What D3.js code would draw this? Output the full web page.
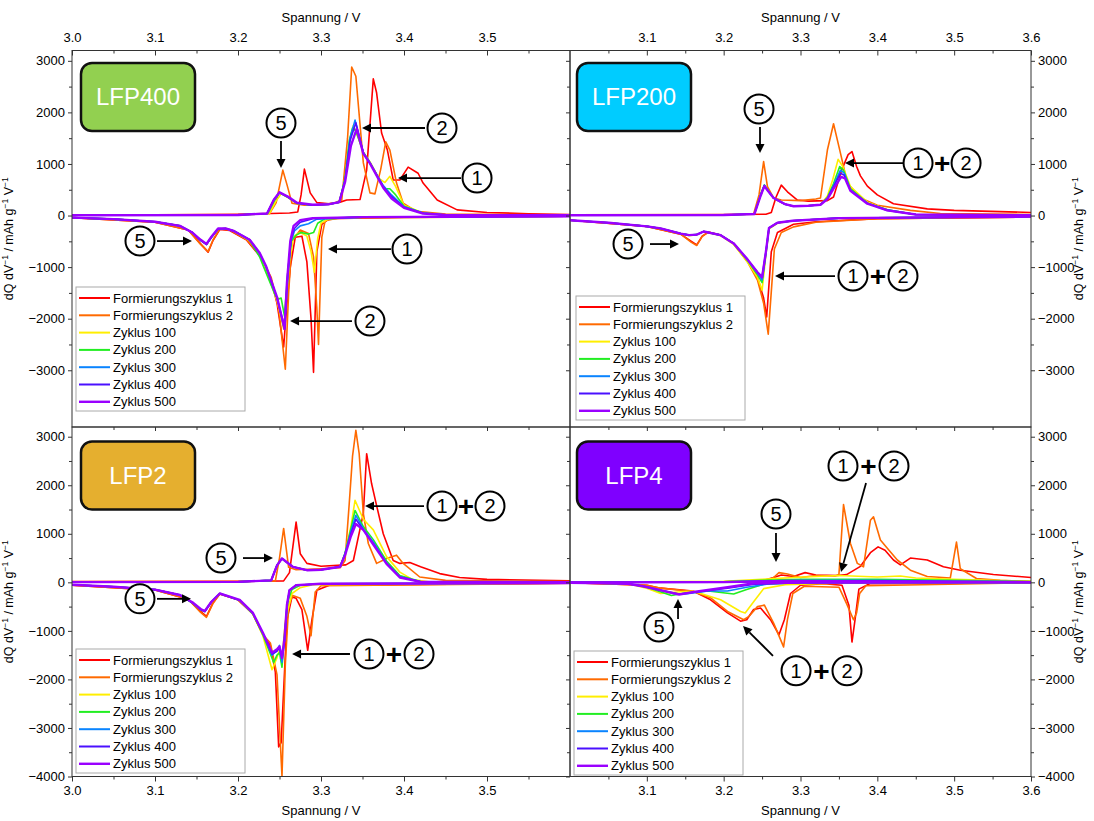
<!DOCTYPE html>
<html><head><meta charset="utf-8">
<script src="https://cdn.jsdelivr.net/npm/d3@7"></script>
<style>body{margin:0;background:#fff}svg{display:block;font-family:"Liberation Sans",Arial,sans-serif}</style>
</head><body>
<script>
// ---------------- DATA ----------------
const seriesNames = ["Formierungszyklus 1","Formierungszyklus 2","Zyklus 100","Zyklus 200","Zyklus 300","Zyklus 400","Zyklus 500"];
const seriesColors = ["#ff0000","#ff6a00","#ffee00","#22ee22","#0a84ff","#4a10ff","#9a00ff"];
const xTicks = [3.0,3.1,3.2,3.3,3.4,3.5,3.6];
const yTicksTop = [3000,2000,1000,0,-1000,-2000,-3000];
const yTicksBottom = [3000,2000,1000,0,-1000,-2000,-3000,-4000];
const panelNames = ["LFP400","LFP200","LFP2","LFP4"];
const panelColors = ["#92d050","#00ccff","#e5af2f","#7f00ff"];

// LFP400 charge
const A_ch_fz1 = [[3.0,10],[3.1,15],[3.2,25],[3.24,40],[3.262,50],[3.272,70],[3.276,400],[3.28,900],[3.287,440],[3.295,250],[3.31,230],[3.323,260],[3.331,300],[3.347,310],[3.355,880],[3.363,2650],[3.367,2380],[3.373,1600],[3.38,1270],[3.387,690],[3.395,690],[3.405,940],[3.417,820],[3.423,630],[3.44,300],[3.464,110],[3.5,60],[3.55,35],[3.6,20]];
const A_ch_fz2 = [[3.0,10],[3.2,20],[3.238,40],[3.246,250],[3.254,880],[3.259,600],[3.265,240],[3.28,200],[3.3,210],[3.315,240],[3.325,300],[3.332,1500],[3.337,2880],[3.342,2700],[3.351,1020],[3.359,440],[3.365,420],[3.372,900],[3.378,1430],[3.383,1270],[3.391,630],[3.399,240],[3.415,80],[3.45,30],[3.6,10]];
const A_ch_z100 = [[3.0,5],[3.2,10],[3.238,40],[3.245,260],[3.252,420],[3.26,350],[3.271,240],[3.29,200],[3.31,220],[3.322,260],[3.329,720],[3.334,1400],[3.339,1750],[3.345,1500],[3.351,1230],[3.359,1040],[3.37,720],[3.377,640],[3.383,760],[3.39,560],[3.4,200],[3.423,50],[3.45,10],[3.6,5]];
const A_ch_z200 = [[3.0,5],[3.2,10],[3.236,40],[3.244,290],[3.25,440],[3.26,360],[3.271,240],[3.29,200],[3.31,220],[3.322,260],[3.329,720],[3.334,1450],[3.338,1700],[3.342,1640],[3.351,1230],[3.359,1030],[3.37,700],[3.377,520],[3.383,520],[3.39,400],[3.4,180],[3.423,50],[3.45,10],[3.6,5]];
const A_ch_z300 = [[3.0,5],[3.2,10],[3.235,40],[3.243,300],[3.25,440],[3.26,360],[3.271,240],[3.29,200],[3.31,220],[3.322,260],[3.329,700],[3.335,1500],[3.341,1850],[3.345,1600],[3.351,1220],[3.359,1020],[3.375,580],[3.385,400],[3.4,170],[3.423,50],[3.45,10],[3.6,5]];
const A_ch_z400 = [[3.0,5],[3.2,10],[3.235,40],[3.243,300],[3.25,450],[3.26,360],[3.271,240],[3.29,200],[3.31,220],[3.322,260],[3.329,680],[3.335,1450],[3.342,1800],[3.346,1550],[3.351,1210],[3.359,1010],[3.375,560],[3.385,370],[3.4,160],[3.423,45],[3.45,10],[3.6,5]];
const A_ch_z500 = [[3.0,5],[3.2,10],[3.235,40],[3.243,300],[3.25,450],[3.26,370],[3.271,250],[3.29,210],[3.31,220],[3.322,260],[3.329,650],[3.336,1350],[3.343,1680],[3.351,1200],[3.359,1010],[3.375,540],[3.385,330],[3.4,150],[3.423,40],[3.45,10],[3.6,5]];
// LFP400 discharge
const A_dc_fz1 = [[3.0,-40],[3.1,-130],[3.14,-280],[3.155,-550],[3.164,-710],[3.17,-480],[3.178,-270],[3.19,-290],[3.21,-470],[3.226,-780],[3.24,-1250],[3.247,-1700],[3.255,-2550],[3.259,-1700],[3.263,-1000],[3.269,-420],[3.277,-400],[3.283,-900],[3.288,-2000],[3.291,-3040],[3.295,-700],[3.301,-170],[3.31,-60],[3.4,-30],[3.6,-15]];
const A_dc_fz2 = [[3.0,-40],[3.1,-130],[3.14,-280],[3.155,-560],[3.164,-700],[3.17,-470],[3.178,-260],[3.19,-280],[3.21,-460],[3.226,-760],[3.24,-1200],[3.249,-1800],[3.257,-2980],[3.261,-1500],[3.265,-500],[3.275,-280],[3.285,-350],[3.291,-800],[3.295,-1800],[3.297,-2500],[3.301,-420],[3.305,-100],[3.32,-50],[3.6,-15]];
const A_dc_z100 = [[3.0,-40],[3.05,-70],[3.1,-120],[3.13,-200],[3.145,-330],[3.155,-480],[3.162,-560],[3.168,-420],[3.176,-260],[3.185,-250],[3.195,-300],[3.214,-490],[3.226,-760],[3.234,-1050],[3.247,-1650],[3.255,-2200],[3.259,-1500],[3.262,-900],[3.267,-400],[3.275,-330],[3.283,-400],[3.288,-700],[3.292,-1100],[3.296,-450],[3.3,-150],[3.31,-60],[3.35,-30],[3.6,-15]];
const A_dc_z200 = [[3.0,-40],[3.05,-70],[3.1,-120],[3.13,-200],[3.145,-330],[3.155,-480],[3.162,-560],[3.168,-420],[3.176,-260],[3.185,-250],[3.195,-300],[3.214,-480],[3.226,-800],[3.231,-1000],[3.245,-1550],[3.249,-1620],[3.252,-1600],[3.256,-1950],[3.26,-1100],[3.264,-500],[3.27,-380],[3.276,-330],[3.285,-360],[3.291,-330],[3.296,-150],[3.305,-60],[3.35,-30],[3.6,-15]];
const A_dc_z300 = [[3.0,-40],[3.05,-70],[3.1,-120],[3.13,-200],[3.145,-330],[3.155,-480],[3.162,-560],[3.168,-420],[3.176,-260],[3.185,-250],[3.195,-300],[3.214,-470],[3.226,-740],[3.234,-1000],[3.247,-1600],[3.256,-2150],[3.26,-1200],[3.264,-500],[3.268,-300],[3.275,-200],[3.285,-160],[3.295,-70],[3.35,-30],[3.6,-15]];
const A_dc_z400 = [[3.0,-40],[3.05,-70],[3.1,-120],[3.13,-200],[3.145,-330],[3.155,-480],[3.162,-560],[3.168,-420],[3.176,-260],[3.185,-250],[3.195,-300],[3.214,-470],[3.226,-730],[3.234,-1000],[3.247,-1600],[3.256,-2200],[3.26,-1100],[3.264,-450],[3.268,-250],[3.275,-130],[3.29,-60],[3.35,-30],[3.6,-15]];
const A_dc_z500 = [[3.0,-40],[3.05,-70],[3.1,-120],[3.13,-200],[3.145,-330],[3.155,-470],[3.162,-550],[3.168,-410],[3.176,-250],[3.185,-250],[3.195,-300],[3.214,-470],[3.226,-720],[3.234,-990],[3.247,-1580],[3.256,-2200],[3.259,-1300],[3.263,-500],[3.267,-200],[3.275,-90],[3.29,-50],[3.35,-30],[3.6,-15]];

// LFP200 charge
const B_ch_fz1 = [[3.0,15],[3.2,20],[3.255,25],[3.262,60],[3.268,350],[3.275,590],[3.283,460],[3.296,300],[3.31,280],[3.335,290],[3.343,360],[3.354,900],[3.362,1180],[3.367,1240],[3.373,950],[3.378,770],[3.387,570],[3.4,400],[3.421,230],[3.465,130],[3.5,100],[3.6,60]];
const B_ch_fz2 = [[3.0,10],[3.2,15],[3.239,30],[3.246,400],[3.252,1045],[3.257,560],[3.265,340],[3.275,300],[3.3,290],[3.32,320],[3.326,340],[3.335,1270],[3.343,1780],[3.352,1210],[3.361,630],[3.378,340],[3.4,200],[3.443,100],[3.482,40],[3.6,20]];
const B_ch_z100 = [[3.0,5],[3.2,10],[3.24,30],[3.248,400],[3.253,590],[3.258,480],[3.265,340],[3.28,220],[3.291,180],[3.31,190],[3.326,210],[3.335,380],[3.342,700],[3.349,1090],[3.355,950],[3.365,560],[3.387,260],[3.413,110],[3.45,20],[3.6,5]];
const B_ch_z200 = [[3.0,5],[3.2,10],[3.24,30],[3.248,400],[3.253,590],[3.258,480],[3.265,340],[3.28,220],[3.291,180],[3.31,190],[3.326,210],[3.335,350],[3.343,620],[3.351,950],[3.356,880],[3.365,520],[3.387,240],[3.413,110],[3.45,20],[3.6,5]];
const B_ch_z300 = [[3.0,5],[3.2,10],[3.24,30],[3.248,400],[3.253,590],[3.258,480],[3.265,340],[3.28,220],[3.291,180],[3.31,190],[3.326,210],[3.335,340],[3.343,580],[3.352,880],[3.357,820],[3.365,500],[3.387,240],[3.413,110],[3.45,20],[3.6,5]];
const B_ch_z400 = [[3.0,5],[3.2,10],[3.24,30],[3.248,390],[3.253,580],[3.258,470],[3.265,340],[3.28,220],[3.291,180],[3.31,190],[3.326,210],[3.335,330],[3.343,560],[3.352,820],[3.357,780],[3.365,490],[3.387,240],[3.413,100],[3.45,20],[3.6,5]];
const B_ch_z500 = [[3.0,5],[3.2,10],[3.24,30],[3.248,380],[3.253,570],[3.258,470],[3.265,340],[3.28,220],[3.291,180],[3.31,190],[3.326,210],[3.335,320],[3.343,520],[3.353,750],[3.358,720],[3.365,480],[3.387,230],[3.413,100],[3.45,20],[3.6,5]];
// LFP200 discharge
const B_dc_fz1 = [[3.0,-90],[3.1,-210],[3.144,-360],[3.158,-500],[3.165,-570],[3.172,-400],[3.18,-320],[3.196,-380],[3.213,-540],[3.231,-880],[3.244,-1200],[3.252,-1600],[3.256,-1965],[3.262,-700],[3.27,-330],[3.291,-170],[3.32,-120],[3.4,-60],[3.6,-30]];
const B_dc_fz2 = [[3.0,-90],[3.1,-210],[3.144,-360],[3.158,-520],[3.165,-580],[3.172,-410],[3.18,-320],[3.196,-380],[3.213,-550],[3.231,-900],[3.244,-1250],[3.252,-1700],[3.258,-2300],[3.266,-650],[3.275,-330],[3.291,-220],[3.32,-130],[3.4,-60],[3.6,-30]];
const B_dc_z100 = [[3.0,-90],[3.05,-140],[3.1,-210],[3.118,-250],[3.144,-350],[3.155,-390],[3.165,-370],[3.174,-310],[3.196,-390],[3.213,-560],[3.231,-900],[3.244,-1200],[3.25,-1450],[3.255,-760],[3.259,-260],[3.27,-150],[3.29,-100],[3.35,-50],[3.6,-20]];
const B_dc_z200 = [[3.0,-90],[3.05,-140],[3.1,-210],[3.118,-250],[3.144,-350],[3.155,-380],[3.165,-370],[3.174,-310],[3.196,-380],[3.213,-540],[3.231,-870],[3.244,-1150],[3.25,-1300],[3.255,-740],[3.259,-250],[3.27,-140],[3.29,-100],[3.35,-50],[3.6,-20]];
const B_dc_z300 = [[3.0,-90],[3.05,-140],[3.1,-210],[3.118,-250],[3.144,-350],[3.155,-380],[3.165,-370],[3.174,-310],[3.196,-380],[3.213,-540],[3.231,-860],[3.244,-1120],[3.25,-1250],[3.255,-720],[3.259,-240],[3.27,-140],[3.29,-100],[3.35,-50],[3.6,-20]];
const B_dc_z400 = [[3.0,-90],[3.05,-140],[3.1,-210],[3.118,-250],[3.144,-350],[3.155,-380],[3.165,-370],[3.174,-310],[3.196,-380],[3.213,-540],[3.231,-850],[3.244,-1100],[3.25,-1180],[3.255,-700],[3.259,-240],[3.27,-140],[3.29,-100],[3.35,-50],[3.6,-20]];
const B_dc_z500 = [[3.0,-90],[3.05,-140],[3.1,-210],[3.118,-250],[3.144,-350],[3.155,-380],[3.165,-370],[3.174,-310],[3.196,-380],[3.213,-540],[3.231,-850],[3.244,-1100],[3.25,-1200],[3.255,-700],[3.259,-240],[3.27,-140],[3.29,-100],[3.35,-50],[3.6,-20]];

// LFP2 charge
const C_ch_fz1 = [[3.0,15],[3.2,20],[3.255,30],[3.262,200],[3.27,1240],[3.275,590],[3.283,390],[3.3,330],[3.33,360],[3.339,450],[3.351,1420],[3.355,2650],[3.361,2030],[3.367,1580],[3.375,1000],[3.387,450],[3.395,390],[3.407,410],[3.42,320],[3.443,180],[3.467,100],[3.5,60],[3.6,30]];
const C_ch_fz2 = [[3.0,10],[3.2,15],[3.245,30],[3.25,500],[3.255,1110],[3.261,310],[3.27,260],[3.3,280],[3.323,300],[3.329,450],[3.334,1620],[3.338,2600],[3.342,3130],[3.346,2650],[3.351,1420],[3.357,800],[3.367,390],[3.379,490],[3.391,560],[3.399,390],[3.419,110],[3.45,40],[3.6,15]];
const C_ch_z100 = [[3.0,5],[3.2,10],[3.24,40],[3.247,350],[3.253,490],[3.266,320],[3.283,250],[3.3,260],[3.323,320],[3.329,600],[3.336,1150],[3.341,1690],[3.351,1300],[3.363,1080],[3.379,530],[3.395,210],[3.41,60],[3.43,10],[3.6,5]];
const C_ch_z200 = [[3.0,5],[3.2,10],[3.24,40],[3.247,350],[3.253,490],[3.266,320],[3.283,250],[3.3,260],[3.323,320],[3.329,600],[3.336,1100],[3.341,1480],[3.351,1150],[3.363,880],[3.379,440],[3.395,140],[3.42,15],[3.6,5]];
const C_ch_z300 = [[3.0,5],[3.2,10],[3.24,40],[3.247,350],[3.253,490],[3.266,320],[3.283,250],[3.3,260],[3.323,320],[3.329,600],[3.336,1050],[3.342,1380],[3.351,1100],[3.363,830],[3.379,400],[3.395,120],[3.42,10],[3.6,5]];
const C_ch_z400 = [[3.0,5],[3.2,10],[3.24,40],[3.247,350],[3.253,490],[3.266,320],[3.283,250],[3.3,260],[3.323,320],[3.329,580],[3.336,1000],[3.342,1300],[3.351,1080],[3.363,800],[3.379,390],[3.395,110],[3.42,10],[3.6,5]];
const C_ch_z500 = [[3.0,5],[3.2,10],[3.24,40],[3.247,350],[3.253,490],[3.266,320],[3.283,250],[3.3,260],[3.323,320],[3.329,560],[3.336,950],[3.342,1200],[3.346,1150],[3.351,1080],[3.363,780],[3.379,380],[3.395,100],[3.42,10],[3.6,5]];
// LFP2 discharge
const C_dc_fz1 = [[3.0,-60],[3.1,-160],[3.14,-350],[3.155,-600],[3.162,-700],[3.17,-420],[3.178,-240],[3.2,-360],[3.218,-650],[3.23,-1080],[3.239,-1300],[3.245,-1850],[3.249,-3390],[3.252,-3300],[3.259,-780],[3.265,-300],[3.27,-330],[3.277,-560],[3.284,-1400],[3.289,-780],[3.295,-165],[3.31,-60],[3.6,-20]];
const C_dc_fz2 = [[3.0,-60],[3.1,-160],[3.14,-350],[3.155,-620],[3.162,-720],[3.17,-430],[3.178,-240],[3.2,-360],[3.218,-650],[3.23,-1080],[3.239,-1250],[3.247,-1900],[3.253,-4000],[3.257,-1700],[3.261,-480],[3.266,-270],[3.275,-330],[3.283,-700],[3.288,-1100],[3.293,-200],[3.3,-70],[3.6,-20]];
const C_dc_z100 = [[3.0,-50],[3.05,-90],[3.1,-150],[3.13,-260],[3.145,-420],[3.155,-560],[3.16,-600],[3.168,-400],[3.178,-230],[3.202,-370],[3.218,-660],[3.23,-1100],[3.241,-1800],[3.247,-1550],[3.25,-1400],[3.253,-1600],[3.257,-800],[3.265,-230],[3.275,-110],[3.29,-50],[3.6,-15]];
const C_dc_z200 = [[3.0,-50],[3.05,-90],[3.1,-150],[3.13,-260],[3.145,-420],[3.155,-560],[3.16,-600],[3.168,-400],[3.178,-230],[3.202,-370],[3.218,-650],[3.23,-1080],[3.243,-1650],[3.247,-1500],[3.25,-1450],[3.253,-1750],[3.256,-1100],[3.26,-400],[3.265,-150],[3.275,-60],[3.3,-30],[3.6,-15]];
const C_dc_z300 = [[3.0,-50],[3.05,-90],[3.1,-150],[3.13,-260],[3.145,-420],[3.155,-560],[3.16,-600],[3.168,-400],[3.178,-230],[3.202,-370],[3.218,-640],[3.23,-1050],[3.241,-1500],[3.247,-1400],[3.25,-1300],[3.253,-1650],[3.256,-1200],[3.259,-480],[3.262,-165],[3.27,-60],[3.3,-30],[3.6,-15]];
const C_dc_z400 = [[3.0,-50],[3.05,-90],[3.1,-150],[3.13,-260],[3.145,-420],[3.155,-560],[3.16,-600],[3.168,-400],[3.178,-230],[3.202,-370],[3.218,-640],[3.23,-1050],[3.241,-1480],[3.247,-1420],[3.25,-1350],[3.253,-1560],[3.256,-1200],[3.259,-480],[3.262,-165],[3.27,-60],[3.3,-30],[3.6,-15]];
const C_dc_z500 = [[3.0,-50],[3.05,-90],[3.1,-150],[3.13,-260],[3.145,-410],[3.155,-550],[3.16,-590],[3.168,-400],[3.178,-230],[3.202,-360],[3.218,-630],[3.23,-1040],[3.241,-1450],[3.247,-1380],[3.25,-1320],[3.253,-1560],[3.256,-1150],[3.259,-460],[3.262,-160],[3.27,-60],[3.3,-30],[3.6,-15]];

// LFP4 charge
const D_ch_fz1 = [[3.0,0],[3.2,10],[3.25,30],[3.265,100],[3.275,150],[3.291,120],[3.306,200],[3.32,150],[3.348,140],[3.36,160],[3.378,330],[3.391,610],[3.401,730],[3.41,660],[3.421,460],[3.43,360],[3.443,500],[3.465,460],[3.486,320],[3.508,250],[3.551,160],[3.6,100]];
const D_ch_fz2 = [[3.0,0],[3.2,10],[3.257,20],[3.265,100],[3.272,200],[3.283,170],[3.3,100],[3.32,140],[3.345,130],[3.35,160],[3.356,1600],[3.365,800],[3.374,390],[3.382,320],[3.391,1280],[3.395,1350],[3.404,870],[3.413,700],[3.426,460],[3.443,250],[3.465,120],[3.495,90],[3.503,830],[3.508,280],[3.529,80],[3.56,40],[3.6,20]];
const D_ch_z100 = [[3.0,0],[3.2,20],[3.25,60],[3.29,100],[3.35,140],[3.4,110],[3.43,130],[3.45,90],[3.5,60],[3.6,20]];
const D_ch_z200 = [[3.0,0],[3.2,10],[3.25,40],[3.3,60],[3.4,60],[3.5,40],[3.6,15]];
const D_ch_z300 = [[3.0,0],[3.2,10],[3.3,40],[3.4,40],[3.5,20],[3.6,10]];
const D_ch_z400 = [[3.0,0],[3.2,5],[3.3,30],[3.4,30],[3.5,15],[3.6,5]];
const D_ch_z500 = [[3.0,0],[3.2,5],[3.28,30],[3.4,20],[3.6,5]];
// LFP4 discharge
const D_dc_fz1 = [[3.0,-10],[3.1,-60],[3.118,-120],[3.16,-180],[3.183,-360],[3.205,-630],[3.222,-800],[3.23,-770],[3.239,-560],[3.248,-530],[3.261,-770],[3.272,-1080],[3.279,-770],[3.287,-230],[3.3,-60],[3.33,-30],[3.354,-60],[3.363,-470],[3.367,-1230],[3.371,-770],[3.376,-140],[3.39,-30],[3.6,-10]];
const D_dc_fz2 = [[3.0,-10],[3.1,-60],[3.118,-120],[3.16,-190],[3.183,-320],[3.205,-600],[3.226,-770],[3.233,-700],[3.244,-500],[3.253,-470],[3.265,-840],[3.278,-1330],[3.283,-770],[3.29,-230],[3.305,-80],[3.35,-100],[3.36,-440],[3.369,-770],[3.373,-630],[3.377,-230],[3.385,-70],[3.6,-10]];
const D_dc_z100 = [[3.0,-10],[3.075,-30],[3.1,-120],[3.118,-230],[3.14,-200],[3.16,-180],[3.196,-360],[3.222,-600],[3.228,-630],[3.239,-400],[3.252,-130],[3.28,-50],[3.35,-20],[3.6,0]];
const D_dc_z200 = [[3.0,-10],[3.075,-30],[3.1,-100],[3.132,-270],[3.15,-220],[3.18,-180],[3.213,-240],[3.23,-150],[3.252,-40],[3.3,-10],[3.6,0]];
const D_dc_z300 = [[3.0,-10],[3.075,-30],[3.1,-90],[3.135,-230],[3.15,-240],[3.18,-180],[3.205,-180],[3.23,-100],[3.26,-30],[3.3,-10],[3.6,0]];
const D_dc_z400 = [[3.0,-10],[3.075,-30],[3.095,-80],[3.12,-170],[3.142,-240],[3.165,-200],[3.205,-120],[3.24,-40],[3.3,-10],[3.6,0]];
const D_dc_z500 = [[3.0,-10],[3.05,-20],[3.075,-30],[3.095,-80],[3.12,-170],[3.142,-250],[3.161,-200],[3.205,-100],[3.24,-20],[3.3,-5],[3.6,0]];

// annotations (data units): circled labels and arrows
const A_circles = [[3.2518,1794,"5"],[3.4458,1697,"2"],[3.488,727,"1"],[3.0819,-495,"5"],[3.4036,-650,"1"],[3.359,-2046,"2"]];
const A_arrows = [[3.2518,1445,3.2518,921],[3.4253,1697,3.3494,1697],[3.4687,727,3.3928,727],[3.1024,-495,3.1446,-495],[3.3843,-650,3.3084,-650],[3.3373,-2046,3.2627,-2046]];
const B_circles = [[3.246,2066,"5"],[3.453,1018,"1"],[3.5155,1018,"2"],[3.0755,-553,"5"],[3.3683,-1173,"1"],[3.4334,-1173,"2"]];
const B_pluses = [[3.4843,1018],[3.4008,-1173]];
const B_arrows = [[3.2473,1716,3.2473,1212],[3.4334,1018,3.3579,1018],[3.1041,-553,3.1419,-553],[3.3449,-1173,3.2668,-1173]];
const C_circles = [[3.4458,1572,"1"],[3.5036,1572,"2"],[3.1795,500,"5"],[3.0819,-340,"5"],[3.3578,-1476,"1"],[3.4181,-1476,"2"]];
const C_pluses = [[3.4747,1572],[3.3879,-1476]];
const C_arrows = [[3.4241,1572,3.353,1572],[3.206,500,3.2422,500],[3.1024,-340,3.1434,-340],[3.3349,-1476,3.2651,-1476]];
const D_circles = [[3.3553,2396,"1"],[3.4217,2396,"2"],[3.2681,1407,"5"],[3.1158,-921,"5"],[3.2942,-1820,"1"],[3.3605,-1820,"2"]];
const D_pluses = [[3.3885,2396],[3.3273,-1820]];
const D_arrows = [[3.3853,2046,3.3527,212],[3.2681,1016,3.2681,418],[3.1406,-756,3.1406,-344],[3.2642,-1514,3.2252,-900]];

// ---------------- DRAWING ----------------
const svg = d3.select("body").append("svg").attr("width",1094).attr("height",821);
const defs = svg.append("defs");

const layout = [
  {key:"A", left:72, right:570, top:50.5, bottom:427, ydom:[-4100,3200], yt:yTicksTop, xside:"top", yside:"left",
   ch:[A_ch_fz1,A_ch_fz2,A_ch_z100,A_ch_z200,A_ch_z300,A_ch_z400,A_ch_z500], dc:[A_dc_fz1,A_dc_fz2,A_dc_z100,A_dc_z200,A_dc_z300,A_dc_z400,A_dc_z500],
   circles:A_circles, pluses:[], arrows:A_arrows, legend:{x:76,y:287}},
  {key:"B", left:570, right:1031, top:50.5, bottom:427, ydom:[-4100,3200], yt:yTicksTop, xside:"top", yside:"right",
   ch:[B_ch_fz1,B_ch_fz2,B_ch_z100,B_ch_z200,B_ch_z300,B_ch_z400,B_ch_z500], dc:[B_dc_fz1,B_dc_fz2,B_dc_z100,B_dc_z200,B_dc_z300,B_dc_z400,B_dc_z500],
   circles:B_circles, pluses:B_pluses, arrows:B_arrows, legend:{x:576,y:296}},
  {key:"C", left:72, right:570, top:427, bottom:776.5, ydom:[-4000,3200], yt:yTicksBottom, xside:"bottom", yside:"left",
   ch:[C_ch_fz1,C_ch_fz2,C_ch_z100,C_ch_z200,C_ch_z300,C_ch_z400,C_ch_z500], dc:[C_dc_fz1,C_dc_fz2,C_dc_z100,C_dc_z200,C_dc_z300,C_dc_z400,C_dc_z500],
   circles:C_circles, pluses:C_pluses, arrows:C_arrows, legend:{x:76,y:649}},
  {key:"D", left:570, right:1031, top:427, bottom:776.5, ydom:[-4000,3200], yt:yTicksBottom, xside:"bottom", yside:"right",
   ch:[D_ch_fz1,D_ch_fz2,D_ch_z100,D_ch_z200,D_ch_z300,D_ch_z400,D_ch_z500], dc:[D_dc_fz1,D_dc_fz2,D_dc_z100,D_dc_z200,D_dc_z300,D_dc_z400,D_dc_z500],
   circles:D_circles, pluses:D_pluses, arrows:D_arrows, legend:{x:574,y:651}}
];

const minorX = [3.05,3.15,3.25,3.35,3.45,3.55];

function styleAxis(g){
  g.select(".domain").remove();
  g.selectAll(".tick line").attr("stroke","#333").attr("stroke-width",1);
  g.selectAll(".tick text").attr("fill","#000").attr("font-size",13).attr("font-family","Liberation Sans, Arial, sans-serif");
}

layout.forEach((p,pi)=>{
  const x = d3.scaleLinear().domain([3.0,3.6]).range([p.left,p.right]);
  const y = d3.scaleLinear().domain(p.ydom).range([p.bottom,p.top]);
  const g = svg.append("g");
  defs.append("clipPath").attr("id","clip"+p.key).append("rect")
    .attr("x",p.left).attr("y",p.top).attr("width",p.right-p.left).attr("height",p.bottom-p.top);

  // curves
  const line = d3.line().x(d=>x(d[0])).y(d=>y(d[1]));
  const cg = g.append("g").attr("clip-path","url(#clip"+p.key+")");
  for(let s=0;s<7;s++){
    [p.ch[s],p.dc[s]].forEach(arr=>{
      cg.append("path").attr("d",line(arr)).attr("fill","none")
        .attr("stroke",seriesColors[s]).attr("stroke-width",s===6?2.4:1.6)
        .attr("stroke-linejoin","round");
    });
  }

  // frame
  g.append("rect").attr("x",p.left).attr("y",p.top).attr("width",p.right-p.left).attr("height",p.bottom-p.top)
    .attr("fill","none").attr("stroke","#333").attr("stroke-width",1);

  // x axes
  const labX = p.yside==="left" ? xTicks.filter(v=>v<3.55) : xTicks.filter(v=>v>3.05);
  const yMinor = p.yt.slice(0,-1).map(v=>v-500);
  if(p.xside==="top"){
    const ax = d3.axisTop(x).tickValues(labX).tickSize(-5).tickPadding(9).tickFormat(d3.format(".1f"));
    g.append("g").attr("transform",`translate(0,${p.top})`).call(ax).call(styleAxis);
    g.append("g").attr("transform",`translate(0,${p.top})`).call(d3.axisTop(x).tickValues(minorX).tickSize(-3).tickFormat("")).call(styleAxis);
    g.append("text").attr("x",(p.left+p.right)/2).attr("y",22).attr("text-anchor","middle").attr("font-size",13).text("Spannung / V");
  } else {
    const ax = d3.axisBottom(x).tickValues(labX).tickSize(5).tickPadding(4).tickFormat(d3.format(".1f"));
    g.append("g").attr("transform",`translate(0,${p.bottom})`).call(ax).call(styleAxis);
    g.append("g").attr("transform",`translate(0,${p.bottom})`).call(d3.axisBottom(x).tickValues(minorX).tickSize(3).tickFormat("")).call(styleAxis);
    g.append("g").attr("transform",`translate(0,${p.top})`).call(d3.axisBottom(x).tickValues(xTicks.slice(1,6)).tickSize(4).tickFormat("")).call(styleAxis);
    g.append("g").attr("transform",`translate(0,${p.top})`).call(d3.axisBottom(x).tickValues(minorX).tickSize(3).tickFormat("")).call(styleAxis);
    g.append("text").attr("x",(p.left+p.right)/2).attr("y",815).attr("text-anchor","middle").attr("font-size",13).text("Spannung / V");
  }
  // y axes
  if(p.yside==="left"){
    g.append("g").attr("transform",`translate(${p.left},0)`).call(d3.axisLeft(y).tickValues(p.yt).tickSize(4).tickPadding(3).tickFormat(d=>d3.format("d")(d).replace("-","\u2212"))).call(styleAxis);
    g.append("g").attr("transform",`translate(${p.left},0)`).call(d3.axisLeft(y).tickValues(yMinor).tickSize(3).tickFormat("")).call(styleAxis);
  } else {
    g.append("g").attr("transform",`translate(${p.right},0)`).call(d3.axisRight(y).tickValues(p.yt).tickSize(4).tickPadding(3).tickFormat(d=>d3.format("d")(d).replace("-","\u2212"))).call(styleAxis);
    g.append("g").attr("transform",`translate(${p.right},0)`).call(d3.axisRight(y).tickValues(yMinor).tickSize(3).tickFormat("")).call(styleAxis);
    g.append("g").attr("transform",`translate(${p.left},0)`).call(d3.axisLeft(y).tickValues(p.yt).tickSize(4).tickFormat("")).call(styleAxis);
    g.append("g").attr("transform",`translate(${p.left},0)`).call(d3.axisLeft(y).tickValues(yMinor).tickSize(3).tickFormat("")).call(styleAxis);
  }

  // y label
  const yl = p.yside==="left" ? 13 : 1083;
  const yc = (p.top+p.bottom)/2;
  const t = g.append("text").attr("transform",`translate(${yl},${yc}) rotate(-90)`).attr("text-anchor","middle").attr("font-size",12.5);
  t.append("tspan").text("dQ dV");
  t.append("tspan").attr("dy",-5).attr("font-size",8.5).text("\u22121");
  t.append("tspan").attr("dy",5).text(" / mAh g");
  t.append("tspan").attr("dy",-5).attr("font-size",8.5).text("\u22121");
  t.append("tspan").attr("dy",5).text(" V");
  t.append("tspan").attr("dy",-5).attr("font-size",8.5).text("\u22121");

  // name box
  const bx = p.left + (p.yside==="left" ? 9 : 7), by = p.top + (p.xside==="top" ? 12.5 : 14.5);
  g.append("rect").attr("x",bx).attr("y",by).attr("width",114).attr("height",68).attr("rx",11)
    .attr("fill",panelColors[pi]).attr("stroke","#111").attr("stroke-width",2.5);
  g.append("text").attr("x",bx+57).attr("y",by+34).attr("dy","0.35em").attr("text-anchor","middle")
    .attr("fill","#fff").attr("font-size",24).text(panelNames[pi]);

  // legend
  const L = p.legend, rowH = 17.3;
  g.append("rect").attr("x",L.x).attr("y",L.y).attr("width",169).attr("height",124)
    .attr("fill","#fff").attr("stroke","#aaa").attr("stroke-width",1);
  seriesNames.forEach((n,i)=>{
    const ry = L.y + 11 + i*rowH;
    g.append("line").attr("x1",L.x+3).attr("x2",L.x+34).attr("y1",ry).attr("y2",ry)
      .attr("stroke",seriesColors[i]).attr("stroke-width",i===6?2.4:2);
    g.append("text").attr("x",L.x+37).attr("y",ry).attr("dy","0.35em").attr("font-size",13).text(n);
  });

  // annotations
  const ag = g.append("g");
  p.arrows.forEach(a=>{
    const x1=x(a[0]), y1=y(a[1]), x2=x(a[2]), y2=y(a[3]);
    const ang = Math.atan2(y2-y1,x2-x1), L2=9, hw=4.5;
    const bxp = x2 - L2*Math.cos(ang), byp = y2 - L2*Math.sin(ang);
    ag.append("line").attr("x1",x1).attr("y1",y1).attr("x2",bxp).attr("y2",byp).attr("stroke","#000").attr("stroke-width",1.8);
    ag.append("path").attr("d",`M${x2},${y2}L${bxp - hw*Math.sin(ang)},${byp + hw*Math.cos(ang)}L${bxp + hw*Math.sin(ang)},${byp - hw*Math.cos(ang)}Z`).attr("fill","#000");
  });
  p.circles.forEach(c=>{
    ag.append("circle").attr("cx",x(c[0])).attr("cy",y(c[1])).attr("r",14.5).attr("fill","#fff").attr("stroke","#000").attr("stroke-width",2);
    ag.append("text").attr("x",x(c[0])).attr("y",y(c[1])).attr("dy","0.36em").attr("text-anchor","middle").attr("font-size",20).text(c[2]);
  });
  p.pluses.forEach(c=>{
    ag.append("text").attr("x",x(c[0])).attr("y",y(c[1])).attr("dy","0.36em").attr("text-anchor","middle").attr("font-size",28).attr("font-weight","bold").text("+");
  });
});
</script>
</body></html>
